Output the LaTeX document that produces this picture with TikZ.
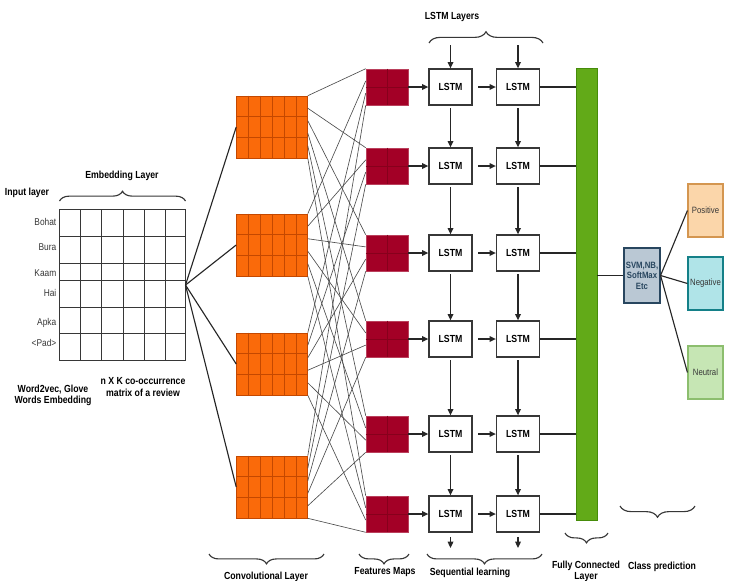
\documentclass[tikz,border=0pt]{standalone}
\usepackage{fontspec}
\setmainfont[FakeStretch=0.85]{Liberation Sans}
\usetikzlibrary{arrows.meta,positioning,calc,decorations.pathreplacing}
\definecolor{convOrange}{RGB}{250,106,10}
\definecolor{convLine}{RGB}{196,72,0}
\definecolor{mapRed}{RGB}{163,0,38}
\definecolor{mapLine}{RGB}{135,0,28}
\definecolor{fcGreen}{RGB}{98,170,24}
\definecolor{fcLine}{RGB}{70,140,10}
\definecolor{clfFill}{RGB}{186,200,212}
\definecolor{clfLine}{RGB}{40,70,95}
\definecolor{posFill}{RGB}{251,214,170}
\definecolor{posLine}{RGB}{212,150,80}
\definecolor{negFill}{RGB}{176,228,232}
\definecolor{negLine}{RGB}{20,128,136}
\definecolor{neuFill}{RGB}{198,230,180}
\definecolor{neuLine}{RGB}{140,190,110}
\definecolor{inkGray}{RGB}{55,55,55}
\tikzset{
  capLbl/.style={font=\bfseries\fontsize{7.3}{8}\selectfont,align=center,inner sep=1pt},
  wordLbl/.style={font=\fontsize{7}{8}\selectfont,text=inkGray,inner sep=1pt,anchor=east},
  braceLine/.style={decorate,decoration={brace,amplitude=#1},thick,inkGray},
  convBlock/.style={rectangle,draw=convLine,fill=convOrange,minimum width=1.775cm,
                    minimum height=1.55cm,inner sep=0pt},
  mapBlock/.style={rectangle,draw=mapRed!75!white,fill=mapRed,minimum width=1.05cm,
                   minimum height=0.9cm,inner sep=0pt},
  lstmBox/.style={rectangle,draw=inkGray,fill=white,line width=0.9pt,minimum width=1.075cm,
                  minimum height=0.9cm,inner sep=0pt,font=\bfseries\fontsize{7.3}{8}\selectfont},
  outBox/.style={rectangle,draw=#1Line,fill=#1Fill,line width=0.8pt,minimum width=0.875cm,
                 minimum height=1.325cm,inner sep=0pt,font=\fontsize{6.5}{7}\selectfont,text=inkGray},
}
\begin{document}
\begin{tikzpicture}[x=0.025cm,y=-0.025cm,
  arr/.style={-{Triangle[length=4.5pt,width=4pt]},line width=0.9pt,black!85},
  link/.style={line width=0.8pt,black!85},
  mesh/.style={line width=0.45pt,black!70}
]
  \useasboundingbox[fill=white](0,0) rectangle (729,580);
  % embedding matrix
  \node[draw=inkGray,line width=0.7pt,minimum width=3.125cm,minimum height=3.75cm,inner sep=0pt](embed) at (122.5,285) {};
  \foreach \xx in {80,101,123,144,165}{
    \draw[inkGray,line width=0.7pt](\xx,210)--(\xx,360);
  }
  \foreach \yy in {236,263,280,307,333}{
    \draw[inkGray,line width=0.7pt](60,\yy)--(185,\yy);
  }
  \foreach \w/\y [count=\n] in {Bohat/222,Bura/247,Kaam/273,Hai/293,Apka/323,{<Pad>}/343}{
    \node[wordLbl](word\n) at (58,\y) {\w};
  }
  \node[capLbl](lblInput) at (27,193) {Input layer};
  \node[capLbl](lblEmbed) at (122,176) {Embedding Layer};
  \draw[braceLine=7pt]([yshift=6pt]embed.north west)--([yshift=6pt]embed.north east);
  \node[capLbl](lblW2v) at (53,395) {Word2vec, Glove\\Words Embedding};
  \node[capLbl](lblMatrix) at (143,387) {n X K co-occurrence\\matrix of a review};
  % convolution blocks
  \foreach \i/\y in {1/127,2/245,3/364,4/487}{
    \node[convBlock](conv\i) at (272,\y) {};
    \foreach \k in {1,...,5}{
      \draw[convLine]($(conv\i.north west)!{\k/6}!(conv\i.north east)$)--($(conv\i.south west)!{\k/6}!(conv\i.south east)$);
    }
    \foreach \k in {1,2}{
      \draw[convLine]($(conv\i.north west)!{\k/3}!(conv\i.south west)$)--($(conv\i.north east)!{\k/3}!(conv\i.south east)$);
    }
    \draw[link](embed.east)--(conv\i.west);
  }
  % feature maps and LSTM rows
  \foreach \f/\y in {1/87,2/166,3/253,4/339,5/434,6/514}{
    \node[mapBlock](fm\f) at (387,\y) {};
    \draw[mapLine,line width=0.3pt](fm\f.north)--(fm\f.south) (fm\f.west)--(fm\f.east);
    \node[lstmBox](lstmA\f) at (450.5,\y) {LSTM};
    \node[lstmBox](lstmB\f) at (518,\y) {LSTM};
    \draw[arr](fm\f)--(lstmA\f);
    \draw[arr,shorten <=4pt](lstmA\f)--(lstmB\f);
  }
  \foreach \c in {1,...,4}{
    \foreach \f in {1,...,6}{
      \pgfmathsetmacro\t{(\f-1)/5}
      \pgfmathsetmacro\s{(\c-1)/3}
      \draw[mesh]($(conv\c.north east)!\t!(conv\c.south east)$)--($(fm\f.north west)!\s!(fm\f.south west)$);
    }
  }
  \foreach \f/\g in {1/2,2/3,3/4,4/5,5/6}{
    \draw[arr,shorten <=2pt](lstmA\f)--(lstmA\g);
    \draw[arr,shorten <=2pt](lstmB\f)--(lstmB\g);
  }
  \coordinate(inA) at (450.5,45);
  \coordinate(inB) at (518,45);
  \coordinate(outA) at (450.5,548);
  \coordinate(outB) at (518,548);
  \draw[arr](inA)--(lstmA1);
  \draw[arr](inB)--(lstmB1);
  \draw[arr,shorten <=3pt](lstmA6)--(outA);
  \draw[arr,shorten <=3pt](lstmB6)--(outB);
  \node[capLbl](lblLstm) at (452,17) {LSTM Layers};
  \draw[braceLine=8pt](429,43)--(543,43);
  % fully connected and classifier
  \node[rectangle,draw=fcLine,fill=fcGreen,minimum width=0.525cm,minimum height=11.3cm,inner sep=0pt](fc) at (586.5,294) {};
  \foreach \f in {1,...,6}{
    \draw[link](lstmB\f.east)--(lstmB\f.east -| fc.west);
  }
  \node[rectangle,draw=clfLine,fill=clfFill,line width=0.8pt,minimum width=0.9cm,minimum height=1.375cm,
        inner sep=0.5pt,align=center,font=\bfseries\fontsize{6.5}{7.5}\selectfont,text=clfLine](clf) at (642,275.5)
      {SVM,NB,\\SoftMax\\Etc};
  \draw[link](clf.west -| fc.east)--(clf.west);
  \node[outBox=pos](pos) at (705.5,210.5) {Positive};
  \node[outBox=neg](neg) at (705.5,283.5) {Negative};
  \node[outBox=neu](neu) at (705.5,372.5) {Neutral};
  \foreach \o in {pos,neg,neu}{
    \draw[link](clf.east)--(\o.west);
  }
  % bottom captions
  \draw[braceLine=7pt](324,554)--(209,554);
  \node[capLbl](lblConv) at (266,577) {Convolutional Layer};
  \draw[braceLine=7pt](409,554)--(359,554);
  \node[capLbl](lblMaps) at (385,572) {Features Maps};
  \draw[braceLine=7pt](542,554)--(427,554);
  \node[capLbl](lblSeq) at (470,573) {Sequential learning};
  \draw[braceLine=7pt](608,533)--(565,533);
  \node[capLbl](lblFc) at (586,571) {Fully Connected\\Layer};
  \draw[braceLine=8pt](695,506)--(620,506);
  \node[capLbl](lblClass) at (662,567) {Class prediction};
\end{tikzpicture}
\end{document}
